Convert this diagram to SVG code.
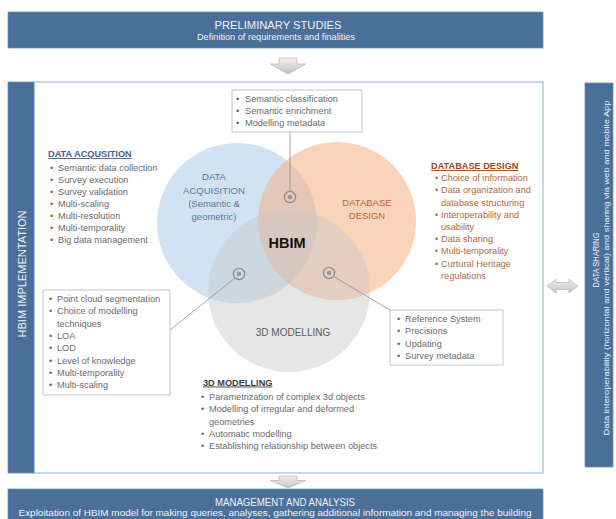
<svg xmlns="http://www.w3.org/2000/svg" width="616" height="519" viewBox="0 0 616 519">
<style>
text{font-family:"Liberation Sans",Arial,sans-serif}
.ban{fill:#4a6f98;stroke:#6f8fb3;stroke-width:0.8}
.bt{fill:#eef3f9;text-anchor:middle}
.li{font-size:9.2px;fill:#6b6b6b}
.lb{font-size:9.2px;fill:#b06a3b}
.box{fill:#fff;stroke:#c6c6c6;stroke-width:1}
.con{stroke:#8e8e8e;stroke-width:0.8;fill:none}
.arr{fill:url(#ag);stroke:#bdbdbd;stroke-width:0.8}
.hd{font-size:9.2px;font-weight:bold;text-decoration:underline}
</style>
<defs>
<linearGradient id="ag" x1="0" y1="0" x2="0" y2="1"><stop offset="0" stop-color="#f0f0f0"/><stop offset="1" stop-color="#c2c2c2"/></linearGradient>
<g id="tgt"><circle r="5.6" fill="none" stroke="#8d8d8d" stroke-width="1.3"/><circle r="2.3" fill="#9b9b9b"/></g>
</defs>
<rect width="616" height="519" fill="#fff"/>

<g id="preliminary-studies">
<rect class="ban" x="8" y="12" width="535" height="36"/>
<text class="bt" x="278" y="29" font-size="11" textLength="127" lengthAdjust="spacingAndGlyphs">PRELIMINARY STUDIES</text>
<text class="bt" x="276" y="39.5" font-size="8.6" textLength="158" lengthAdjust="spacingAndGlyphs">Definition of requirements and finalities</text>
</g>

<g id="arrow-down-1"><polygon class="arr" points="279,58 297,58 297,64 306,64 288,74 270,64 279,64"/></g>

<g id="hbim-implementation">
<rect x="34" y="82" width="509" height="391" fill="#fff" stroke="#b3cae2" stroke-width="1.5"/>
<rect class="ban" x="8" y="82" width="26" height="391"/>
<text class="bt" transform="translate(25.5,274) rotate(-90)" font-size="11" textLength="127" lengthAdjust="spacingAndGlyphs">HBIM IMPLEMENTATION</text>
</g>

<g id="venn">
<circle id="circle-data-acquisition" cx="237" cy="223" r="80" fill="#bdd7ee" fill-opacity="0.7"/>
<circle id="circle-database-design" cx="337" cy="221" r="79" fill="#f4b183" fill-opacity="0.55"/>
<circle id="circle-3d-modelling" cx="289" cy="291" r="81" fill="#c8c8c8" fill-opacity="0.45"/>
</g>

<g id="venn-labels">
<g fill="#56789e" font-size="9.5" text-anchor="middle">
<text x="214" y="180">DATA</text>
<text x="214" y="193.5">ACQUISITION</text>
<text x="214" y="206.5">(Semantic &amp;</text>
<text x="214" y="220">geometric)</text>
</g>
<g fill="#b8683a" font-size="9.5" text-anchor="middle">
<text x="367" y="206">DATABASE</text>
<text x="367" y="219">DESIGN</text>
</g>
<text id="hbim" x="287" y="248" font-size="14.5" font-weight="bold" fill="#111" text-anchor="middle">HBIM</text>
<text x="293" y="335.5" font-size="10" fill="#5a5a5a" text-anchor="middle">3D MODELLING</text>
</g>

<g id="connectors">
<line class="con" x1="290" y1="132" x2="290" y2="191.5"/>
<line class="con" x1="170" y1="330" x2="235" y2="278"/>
<line class="con" x1="333.5" y1="276.5" x2="390" y2="310"/>
</g>

<g id="markers">
<use href="#tgt" x="290" y="197"/>
<use href="#tgt" x="239" y="274"/>
<use href="#tgt" x="329" y="273"/>
</g>

<g id="box-semantic">
<rect class="box" x="232" y="90" width="130" height="42"/>
<g class="li">
<text x="236" y="102">•</text><text x="245" y="102">Semantic classification</text>
<text x="236" y="114">•</text><text x="245" y="114">Semantic enrichment</text>
<text x="236" y="125.5">•</text><text x="245" y="125.5">Modelling metadata</text>
</g>
</g>

<g id="list-data-acquisition">
<text class="hd" x="48" y="157" fill="#44658a">DATA ACQUSITION</text>
<g class="li">
<text x="50" y="170.5">•</text><text x="58" y="170.5">Semantic data collection</text>
<text x="50" y="182.6">•</text><text x="58" y="182.6">Survey execution</text>
<text x="50" y="194.7">•</text><text x="58" y="194.7">Survey validation</text>
<text x="50" y="206.8">•</text><text x="58" y="206.8">Multi-scaling</text>
<text x="50" y="218.9">•</text><text x="58" y="218.9">Multi-resolution</text>
<text x="50" y="231">•</text><text x="58" y="231">Multi-temporality</text>
<text x="50" y="243.1">•</text><text x="58" y="243.1">Big data management</text>
</g>
</g>

<g id="list-database-design">
<text class="hd" x="431" y="169" fill="#974a1f">DATABASE DESIGN</text>
<g class="lb">
<text x="435" y="181.2">•</text><text x="441" y="181.2">Choice of information</text>
<text x="435" y="193.4">•</text><text x="441" y="193.4">Data organization and</text>
<text x="441" y="205.6">database structuring</text>
<text x="435" y="217.8">•</text><text x="441" y="217.8">Interoperability and</text>
<text x="441" y="230">usability</text>
<text x="435" y="242.2">•</text><text x="441" y="242.2">Data sharing</text>
<text x="435" y="254.4">•</text><text x="441" y="254.4">Multi-temporality</text>
<text x="435" y="266.6">•</text><text x="441" y="266.6">Curtural Heritage</text>
<text x="441" y="278.8">regulations</text>
</g>
</g>

<g id="box-3d-left">
<rect class="box" x="43" y="290" width="127" height="105"/>
<g class="li">
<text x="49" y="302">•</text><text x="57" y="302">Point cloud segmentation</text>
<text x="49" y="314.3">•</text><text x="57" y="314.3">Choice of modelling</text>
<text x="57" y="326.6">techniques</text>
<text x="49" y="338.9">•</text><text x="57" y="338.9">LOA</text>
<text x="49" y="351.2">•</text><text x="57" y="351.2">LOD</text>
<text x="49" y="363.5">•</text><text x="57" y="363.5">Level of knowledge</text>
<text x="49" y="375.8">•</text><text x="57" y="375.8">Multi-temporality</text>
<text x="49" y="388.1">•</text><text x="57" y="388.1">Multi-scaling</text>
</g>
</g>

<g id="box-right">
<rect class="box" x="390" y="310" width="113" height="55"/>
<g class="li">
<text x="397" y="321.5">•</text><text x="405" y="321.5">Reference System</text>
<text x="397" y="334">•</text><text x="405" y="334">Precisions</text>
<text x="397" y="346.5">•</text><text x="405" y="346.5">Updating</text>
<text x="397" y="359">•</text><text x="405" y="359">Survey metadata</text>
</g>
</g>

<g id="list-3d-modelling">
<text class="hd" x="203" y="385.5" fill="#404040">3D MODELLING</text>
<g class="li">
<text x="201" y="400">•</text><text x="209" y="400">Parametrization of complex 3d objects</text>
<text x="201" y="412.3">•</text><text x="209" y="412.3">Modelling of irregular and deformed</text>
<text x="209" y="424.6">geometries</text>
<text x="201" y="436.9">•</text><text x="209" y="436.9">Automatic modelling</text>
<text x="201" y="449.2">•</text><text x="209" y="449.2">Establishing relationship between objects</text>
</g>
</g>

<g id="arrow-double"><polygon class="arr" points="547,286 556,279 556,282.5 569,282.5 569,279 578,286 569,293 569,289.5 556,289.5 556,293"/></g>

<g id="data-sharing">
<rect class="ban" x="585" y="83" width="28" height="384"/>
<text class="bt" transform="translate(598.5,260) rotate(-90)" font-size="9.5" textLength="55" lengthAdjust="spacingAndGlyphs">DATA SHARING</text>
<text class="bt" transform="translate(608.5,268) rotate(-90)" font-size="7.8" textLength="335" lengthAdjust="spacingAndGlyphs">Data interoperability (horizontal and vertical) and sharing via web and mobile App</text>
</g>

<g id="arrow-down-2"><polygon class="arr" points="279,476 297,476 297,480.5 306,480.5 288,488 270,480.5 279,480.5"/></g>

<g id="management-analysis">
<rect class="ban" x="8" y="489" width="535" height="36"/>
<text class="bt" x="285" y="506" font-size="11" textLength="140" lengthAdjust="spacingAndGlyphs">MANAGEMENT AND ANALYSIS</text>
<text class="bt" x="275" y="516" font-size="8.4" textLength="513" lengthAdjust="spacingAndGlyphs">Exploitation of HBIM model for making queries, analyses, gathering additional information and managing the building</text>
</g>
</svg>
